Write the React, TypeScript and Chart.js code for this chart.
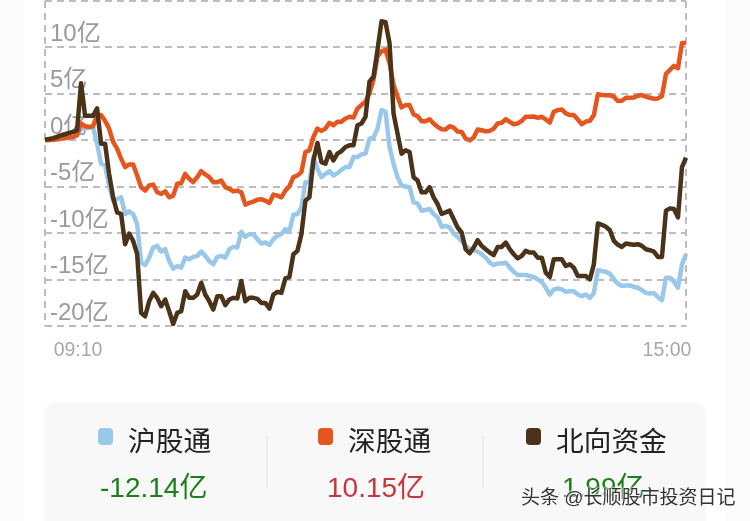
import React, { useEffect, useRef } from "react";
import { Chart, registerables } from "chart.js";

Chart.register(...registerables);

// values in 亿
const huValues = [
  0, 0.04, 0.07, 0.11, 0.14, 0.22, 0.25, 0.32, 0.54, 1.26, 1.26, 1.37, 1.37, -0.36, -2.53, -2.71, -4.87, -6.5, -6.32, -6.14,
  -7.94, -7.65, -7.94, -9.03, -13.18, -13.43, -12.64, -11.55, -11.37, -11.99, -11.73, -13.0, -13.83, -13.54, -13.72, -12.64, -12.82, -12.56, -12.45, -11.99,
  -12.45, -13.0, -13.36, -12.56, -12.45, -12.64, -11.73, -11.48, -11.55, -9.86, -10.4, -10.11, -10.11, -10.65, -11.12, -11.01, -11.26, -10.65, -10.29, -10.11,
  -9.57, -9.75, -8.05, -7.94, -7.22, -4.51, -4.51, -1.81, -3.07, -3.97, -3.61, -3.32, -3.79, -3.54, -3.18, -2.89, -2.89, -1.81, -1.81, -1.52,
  -1.44, 0.18, 0.29, 1.26, 3.25, 3.07, -0.72, -2.53, -3.97, -4.87, -4.98, -5.05, -6.68, -6.79, -7.58, -7.51, -7.4, -7.94, -8.3, -9.31,
  -9.21, -9.39, -10.04, -10.4, -10.83, -11.37, -11.73, -11.84, -11.99, -12.27, -12.64, -13.18, -13.43, -13.28, -13.28, -13.18, -13.72, -14.15, -14.51, -14.51,
  -14.51, -14.62, -14.73, -14.98, -15.23, -15.88, -16.61, -16.06, -15.96, -16.06, -16.32, -16.25, -16.25, -16.61, -16.79, -16.61, -16.97, -16.43, -14.0, -14.08,
  -14.15, -14.37, -14.98, -15.45, -15.7, -15.63, -15.63, -15.78, -15.88, -16.14, -16.43, -16.5, -16.46, -16.89, -17.22, -14.8, -14.8, -15.23, -15.88, -13.36,
  -12.27,
];

const shenValues = [
  0, 0.04, 0.07, 0.11, 0.18, 0.25, 0.29, 0.36, 0.54, 1.81, 1.52, 1.44, 1.52, 2.71, 2.71, 2.09, 1.26, -0.18, -0.9, -1.99,
  -2.89, -2.6, -2.6, -3.79, -5.05, -5.42, -4.87, -4.77, -5.6, -5.78, -5.49, -6.14, -5.96, -4.69, -4.62, -3.61, -4.15, -4.51, -3.97, -3.32,
  -3.68, -3.97, -4.51, -4.51, -4.33, -5.05, -5.23, -5.49, -5.42, -5.6, -6.93, -6.75, -6.61, -6.39, -6.35, -6.5, -6.75, -5.85, -5.96, -6.14,
  -5.42, -4.95, -3.97, -3.79, -3.43, -1.26, -1.08, 0.36, 1.26, 1.01, 1.26, 1.88, 1.62, 1.99, 1.99, 2.35, 2.53, 2.45, 3.43, 3.79,
  4.15, 5.05, 6.5, 9.03, 9.57, 9.75, 8.3, 5.96, 4.69, 3.54, 3.79, 3.79, 2.78, 2.6, 2.06, 2.06, 2.27, 1.81, 1.44, 1.19,
  1.16, 1.52, 1.37, 0.94, 0.9, 0.18, 0, 0.29, 1.16, 1.08, 0.97, 1.01, 1.26, 1.81, 1.88, 2.27, 1.99, 1.73, 1.81, 2.09,
  2.53, 2.53, 2.56, 2.42, 2.53, 2.24, 1.91, 3.07, 3.25, 3.32, 2.89, 2.71, 2.71, 2.24, 1.73, 2.02, 2.09, 2.71, 4.95, 4.87,
  4.84, 4.84, 4.69, 4.22, 4.26, 4.58, 4.58, 4.62, 4.8, 4.87, 4.69, 4.58, 4.48, 4.51, 4.77, 7.15, 7.58, 8.01, 7.76, 10.47,
  10.47,
];

const northValues = [
  0.07, 0.14, 0.22, 0.36, 0.54, 0.65, 0.79, 0.9, 1.08, 6.14, 2.64, 2.64, 2.64, 3.43, -0.36, -0.36, -3.61, -6.14, -7.76, -7.94,
  -11.19, -10.04, -10.83, -12.27, -18.59, -18.95, -17.33, -16.43, -16.97, -17.87, -17.15, -18.41, -19.78, -18.59, -18.41, -16.25, -16.97, -16.97, -16.61, -15.34,
  -16.61, -17.33, -18.23, -16.79, -16.79, -17.76, -17.15, -16.97, -17.04, -15.16, -17.33, -16.97, -16.97, -17.08, -17.51, -17.51, -18.12, -16.61, -16.32, -16.43,
  -14.87, -14.73, -12.27, -11.91, -10.11, -6.5, -6.14, -2.17, -0.29, -2.35, -2.53, -1.26, -2.17, -1.44, -1.16, -0.72, -0.54, -0.54, 1.62, 1.81,
  2.53, 6.32, 6.86, 9.75, 12.82, 12.71, 10.47, 2.89, 0.72, -1.44, -1.08, -1.26, -3.97, -4.33, -5.6, -5.6, -5.05, -6.14, -6.86, -7.94,
  -7.76, -7.58, -8.48, -9.39, -9.93, -11.73, -12.17, -11.55, -10.76, -11.37, -11.73, -12.09, -12.35, -11.48, -11.48, -11.01, -11.73, -12.27, -12.71, -12.45,
  -11.91, -12.09, -12.09, -12.64, -12.64, -14.26, -14.73, -12.82, -12.82, -12.82, -13.54, -13.36, -13.72, -14.62, -14.62, -14.62, -14.98, -13.36, -8.95, -9.1,
  -9.31, -9.68, -10.83, -11.26, -11.48, -11.12, -11.19, -11.26, -11.19, -11.37, -11.73, -11.84, -11.99, -12.56, -12.56, -7.58, -7.33, -7.4, -8.3, -2.89,
  -1.88,
];

const seriesNames = ["沪股通", "深股通", "北向资金"];
const seriesColors = ["#9ac8ea", "#e5561f", "#4b3319"];
const totals = ["-12.14亿", "10.15亿", "1.99亿"];
const totalColors = ["#1c7f1c", "#c8353c", "#1c7f1c"];
const timeLabels = ["09:10", "15:00"];
const timeLabelIndex = [8, 155];

const FONT = '"Liberation Sans", "Noto Sans CJK SC", sans-serif';

const legendX = [98, 318, 526];
const legendTextX = [128, 348, 556];
const valueX = [100, 327, 562];

const App = () => {
  const chartRef = useRef<HTMLCanvasElement>(null);

  useEffect(() => {
    if (!chartRef.current) return;
    const last = huValues.length - 1;
    const chart = new Chart(chartRef.current, {
      type: "line",
      data: {
        labels: huValues.map((_, i) => String(i)),
        datasets: [
          { label: seriesNames[2], data: northValues, borderColor: seriesColors[2] },
          { label: seriesNames[1], data: shenValues, borderColor: seriesColors[1] },
          { label: seriesNames[0], data: huValues, borderColor: seriesColors[0] },
        ],
      },
      options: {
        responsive: false,
        animation: false,
        layout: { padding: { left: 45, right: 64, top: 1, bottom: 0 } },
        elements: {
          point: { radius: 0 },
          line: { borderWidth: 4.5, tension: 0, borderJoinStyle: "round" },
        },
        plugins: { legend: { display: false }, tooltip: { enabled: false } },
        scales: {
          y: {
            min: -20,
            max: 15,
            grid: { color: "#bdbdbd", lineWidth: 2, drawTicks: false },
            border: { display: false, dash: [7, 5] },
            afterBuildTicks: (s: any) => {
              s.ticks = [15, 10, 5, 0, -5, -10, -15, -20].map((value) => ({ value }));
            },
            afterFit: (s: any) => {
              s.paddingTop = 0;
              s.paddingBottom = 0;
              s.width = 0;
            },
            ticks: {
              mirror: true,
              padding: 5,
              labelOffset: -13,
              color: "#9a9a9a",
              font: { size: 24, family: FONT },
              callback: (v: any) => (v === 15 ? "" : v + "亿"),
            },
          },
          x: {
            afterFit: (s: any) => {
              s.height = 195;
            },
            grid: {
              lineWidth: 2,
              drawTicks: false,
              color: (c: any) => (c.index === 0 || c.index === last ? "#bdbdbd" : "transparent"),
            },
            border: { display: false, dash: [7, 5] },
            ticks: {
              autoSkip: false,
              maxRotation: 0,
              padding: 13,
              labelOffset: 1,
              color: "#a8a8a8",
              font: { size: 19.5, family: FONT },
              callback: (_: any, i: number) => {
                const k = timeLabelIndex.indexOf(i);
                return k >= 0 ? timeLabels[k] : "";
              },
            },
          },
        },
      },
    });
    return () => chart.destroy();
  }, []);

  return (
    <div style={{ position: "fixed", left: 0, top: 0, width: 750, height: 521, overflow: "hidden", background: "#fbfbfb", fontFamily: FONT }}>
      <div style={{ position: "absolute", left: 24, top: 0, width: 702, height: 521, background: "#fff" }} />
      <canvas ref={chartRef} width={750} height={521} style={{ position: "absolute", left: 0, top: 0 }} />
      <div style={{ position: "absolute", left: 44, top: 402, width: 662, height: 140, borderRadius: 12, background: "#f8f8f8" }} />
      {seriesNames.map((name, i) => (
        <React.Fragment key={name}>
          <div style={{ position: "absolute", left: legendX[i], top: 428, width: 15, height: 17, borderRadius: 4, background: seriesColors[i] }} />
          <div style={{ position: "absolute", left: legendTextX[i], top: 424, fontSize: 27.7, lineHeight: "36px", color: "#222", whiteSpace: "nowrap" }}>{name}</div>
          <div style={{ position: "absolute", left: valueX[i], top: 470, fontSize: 28, lineHeight: "36px", color: totalColors[i], whiteSpace: "nowrap" }}>{totals[i]}</div>
        </React.Fragment>
      ))}
      <div style={{ position: "absolute", left: 266, top: 436, width: 2, height: 52, background: "#ececec" }} />
      <div style={{ position: "absolute", left: 482, top: 436, width: 2, height: 52, background: "#ececec" }} />
      <div
        style={{
          position: "absolute",
          left: 521,
          top: 485,
          fontSize: 19,
          lineHeight: "26px",
          color: "#333",
          whiteSpace: "nowrap",
          textShadow: "0 0 2px #fff, 0 0 2px #fff, 0 0 3px #fff",
        }}
      >
        头条 @长顺股市投资日记
      </div>
    </div>
  );
};

export default App;
